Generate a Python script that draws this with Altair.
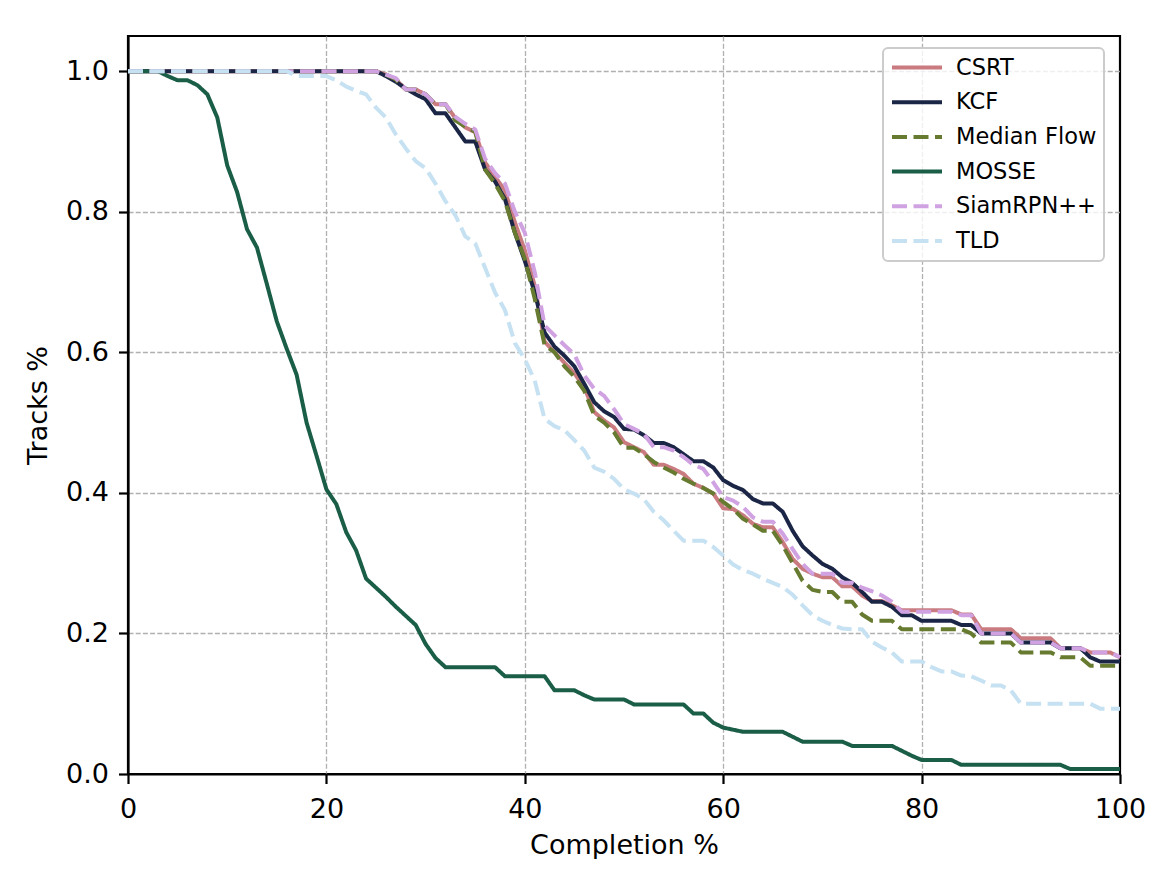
import altair as alt
import pandas as pd

x_vals = list(range(101))

csrt = [1]*20 + [
    1, 1, 1, 1, 1, 1, 0.995, 0.988, 0.974, 0.974,
    0.967, 0.953, 0.953, 0.933, 0.92, 0.913, 0.87, 0.85, 0.83, 0.785,
    0.745, 0.695, 0.615, 0.6, 0.585, 0.57, 0.55, 0.515, 0.503, 0.493,
    0.472, 0.465, 0.458, 0.44, 0.44, 0.434, 0.427, 0.413, 0.407, 0.399,
    0.378, 0.377, 0.368, 0.356, 0.351, 0.351, 0.33, 0.306, 0.292, 0.285,
    0.28, 0.28, 0.267, 0.267, 0.254, 0.246, 0.246, 0.24, 0.233, 0.233,
    0.233, 0.233, 0.233, 0.233, 0.227, 0.227, 0.206, 0.206, 0.206, 0.206,
    0.193, 0.193, 0.193, 0.193, 0.179, 0.179, 0.179, 0.173, 0.173, 0.173,
    0.166]

kcf = [1]*20 + [
    1, 1, 1, 1, 1, 1, 0.993, 0.985, 0.975, 0.967,
    0.96, 0.94, 0.94, 0.92, 0.90, 0.90, 0.86, 0.843, 0.818, 0.77,
    0.73, 0.685, 0.628, 0.608, 0.595, 0.58, 0.555, 0.529, 0.516, 0.508,
    0.491, 0.49, 0.482, 0.471, 0.471, 0.465, 0.455, 0.445, 0.445, 0.436,
    0.418, 0.41, 0.404, 0.391, 0.385, 0.385, 0.373, 0.346, 0.324, 0.311,
    0.299, 0.292, 0.28, 0.272, 0.259, 0.245, 0.245, 0.238, 0.226, 0.226,
    0.218, 0.218, 0.218, 0.218, 0.212, 0.212, 0.2, 0.2, 0.2, 0.2,
    0.187, 0.187, 0.187, 0.187, 0.179, 0.179, 0.179, 0.166, 0.16, 0.16,
    0.16]

median_flow = [1]*20 + [
    1, 1, 1, 1, 1, 1, 0.995, 0.988, 0.974, 0.974,
    0.967, 0.953, 0.953, 0.93, 0.921, 0.914, 0.86, 0.84, 0.815, 0.77,
    0.733, 0.676, 0.61, 0.6, 0.58, 0.565, 0.545, 0.51, 0.5, 0.486,
    0.464, 0.464, 0.455, 0.444, 0.436, 0.429, 0.42, 0.413, 0.407, 0.399,
    0.387, 0.377, 0.363, 0.355, 0.346, 0.346, 0.325, 0.3, 0.275, 0.262,
    0.259, 0.259, 0.245, 0.245, 0.227, 0.218, 0.218, 0.218, 0.206, 0.206,
    0.206, 0.206, 0.206, 0.206, 0.206, 0.2, 0.187, 0.187, 0.187, 0.187,
    0.173, 0.173, 0.173, 0.173, 0.166, 0.166, 0.166, 0.154, 0.154, 0.154,
    0.154]

mosse = [
    1, 1, 1, 1, 0.993, 0.987, 0.987, 0.98, 0.967, 0.934,
    0.866, 0.828, 0.775, 0.749, 0.697, 0.644, 0.605, 0.568, 0.5, 0.453,
    0.405, 0.384, 0.344, 0.318, 0.278, 0.265, 0.252, 0.238, 0.225, 0.212,
    0.185, 0.165, 0.152, 0.152, 0.152, 0.152, 0.152, 0.152, 0.139, 0.139,
    0.139, 0.139, 0.139, 0.119, 0.119, 0.119, 0.112, 0.106, 0.106, 0.106,
    0.106, 0.099, 0.099, 0.099, 0.099, 0.099, 0.099, 0.086, 0.086, 0.073,
    0.066, 0.063, 0.06, 0.06, 0.06, 0.06, 0.06, 0.053, 0.046, 0.046,
    0.046, 0.046, 0.046, 0.04, 0.04, 0.04, 0.04, 0.04, 0.033, 0.026,
    0.02, 0.02, 0.02, 0.02, 0.013, 0.013, 0.013, 0.013, 0.013, 0.013,
    0.013, 0.013, 0.013, 0.013, 0.013, 0.007, 0.007, 0.007, 0.007, 0.007,
    0.007]

siamrpn = [1]*20 + [
    1, 1, 1, 1, 1, 1, 0.995, 0.99, 0.974, 0.974,
    0.967, 0.953, 0.953, 0.935, 0.925, 0.917, 0.875, 0.855, 0.84, 0.8,
    0.77, 0.714, 0.638, 0.624, 0.61, 0.597, 0.567, 0.548, 0.538, 0.519,
    0.498, 0.491, 0.484, 0.465, 0.465, 0.46, 0.451, 0.44, 0.434, 0.415,
    0.394, 0.389, 0.38, 0.365, 0.359, 0.359, 0.342, 0.32, 0.299, 0.285,
    0.285, 0.285, 0.272, 0.272, 0.265, 0.26, 0.254, 0.245, 0.231, 0.231,
    0.231, 0.231, 0.231, 0.231, 0.226, 0.226, 0.2, 0.2, 0.2, 0.2,
    0.187, 0.187, 0.187, 0.187, 0.179, 0.179, 0.179, 0.173, 0.173, 0.173,
    0.166]

tld = [1]*10 + [
    1, 1, 1, 1, 1, 1, 1, 0.993, 0.993, 0.993,
    0.993, 0.987, 0.978, 0.972, 0.967, 0.948, 0.934, 0.91, 0.89, 0.872,
    0.862, 0.84, 0.815, 0.795, 0.765, 0.755, 0.72, 0.685, 0.66, 0.613,
    0.59, 0.56, 0.505, 0.495, 0.489, 0.475, 0.46, 0.436, 0.43, 0.42,
    0.405, 0.399, 0.391, 0.373, 0.361, 0.346, 0.332, 0.332, 0.332, 0.323,
    0.311, 0.298, 0.29, 0.285, 0.278, 0.272, 0.266, 0.255, 0.24, 0.226,
    0.218, 0.212, 0.207, 0.206, 0.206, 0.188, 0.18, 0.173, 0.16, 0.16,
    0.16, 0.152, 0.146, 0.146, 0.14, 0.139, 0.133, 0.126, 0.126, 0.119,
    0.1, 0.1, 0.1, 0.1, 0.1, 0.1, 0.1, 0.1, 0.093, 0.093,
    0.093]

trackers = ["CSRT", "KCF", "Median Flow", "MOSSE", "SiamRPN++", "TLD"]
series = [csrt, kcf, median_flow, mosse, siamrpn, tld]
colors = ["#c97b80", "#1b2545", "#667a30", "#1b5e47", "#d0a2e2", "#c5e1f2"]
dashes = [[1, 0], [1, 0], [15, 6.5], [1, 0], [15, 6.5], [15, 6.5]]

rows = []
for name, vals in zip(trackers, series):
    for xv, yv in zip(x_vals, vals):
        rows.append({"Completion": xv, "Tracks": yv, "Tracker": name})
df = pd.DataFrame(rows)

FONT = "DejaVu Sans"

legend = alt.Legend(
    title=None, orient="none", legendX=755, legendY=12,
    symbolType="stroke", symbolSize=2500, symbolStrokeWidth=4,
    labelFontSize=22.5, labelFont=FONT, labelColor="black", labelOffset=12,
    clipHeight=25, rowPadding=9.7, padding=7, fillColor="rgba(255,255,255,0.8)",
    strokeColor="#cccccc", cornerRadius=5,
)

edge_grid_x = {"condition": {"test": "datum.value <= 0 || datum.value >= 100", "value": 0}, "value": 1}
edge_grid_y = {"condition": {"test": "datum.value <= 0", "value": 0}, "value": 1}

chart = alt.Chart(df).mark_line(strokeWidth=4, strokeJoin="round").encode(
    x=alt.X("Completion:Q", scale=alt.Scale(domain=[0, 100], nice=False, zero=False),
            axis=alt.Axis(values=[0, 20, 40, 60, 80, 100], title="Completion %",
                          labelPadding=13, titlePadding=10, gridOpacity=edge_grid_x)),
    y=alt.Y("Tracks:Q", scale=alt.Scale(domain=[0, 1.05], nice=False),
            axis=alt.Axis(values=[0, 0.2, 0.4, 0.6, 0.8, 1.0], format=".1f", title="Tracks %",
                          labelPadding=10, titlePadding=13.5, gridOpacity=edge_grid_y)),
    color=alt.Color("Tracker:N", scale=alt.Scale(domain=trackers, range=colors), legend=legend),
    strokeDash=alt.StrokeDash("Tracker:N", scale=alt.Scale(domain=trackers, range=dashes), legend=legend),
).properties(
    width=992, height=738,
    background="white",
    autosize=alt.AutoSizeParams(type="none"),
    padding={"left": 120, "top": 28, "right": 31, "bottom": 85},
).configure_view(
    stroke="black", strokeWidth=2.2
).configure_legend(
    strokeWidth=2
).configure_axis(
    grid=True, gridDash=[5, 2.2], gridColor="#b0b0b0", gridWidth=1.3,
    domain=True, domainColor="black", domainWidth=2.2,
    ticks=True, tickColor="black", tickWidth=2.2, tickSize=9.5,
    labelFont=FONT, labelFontSize=27, labelColor="black",
    labelFlush=False, labelOverlap=False, labelBound=False,
    titleFont=FONT, titleFontSize=27, titleFontWeight="normal", titleColor="black",
)

chart.save("out.html", embed_options={"renderer": "svg", "actions": False})
